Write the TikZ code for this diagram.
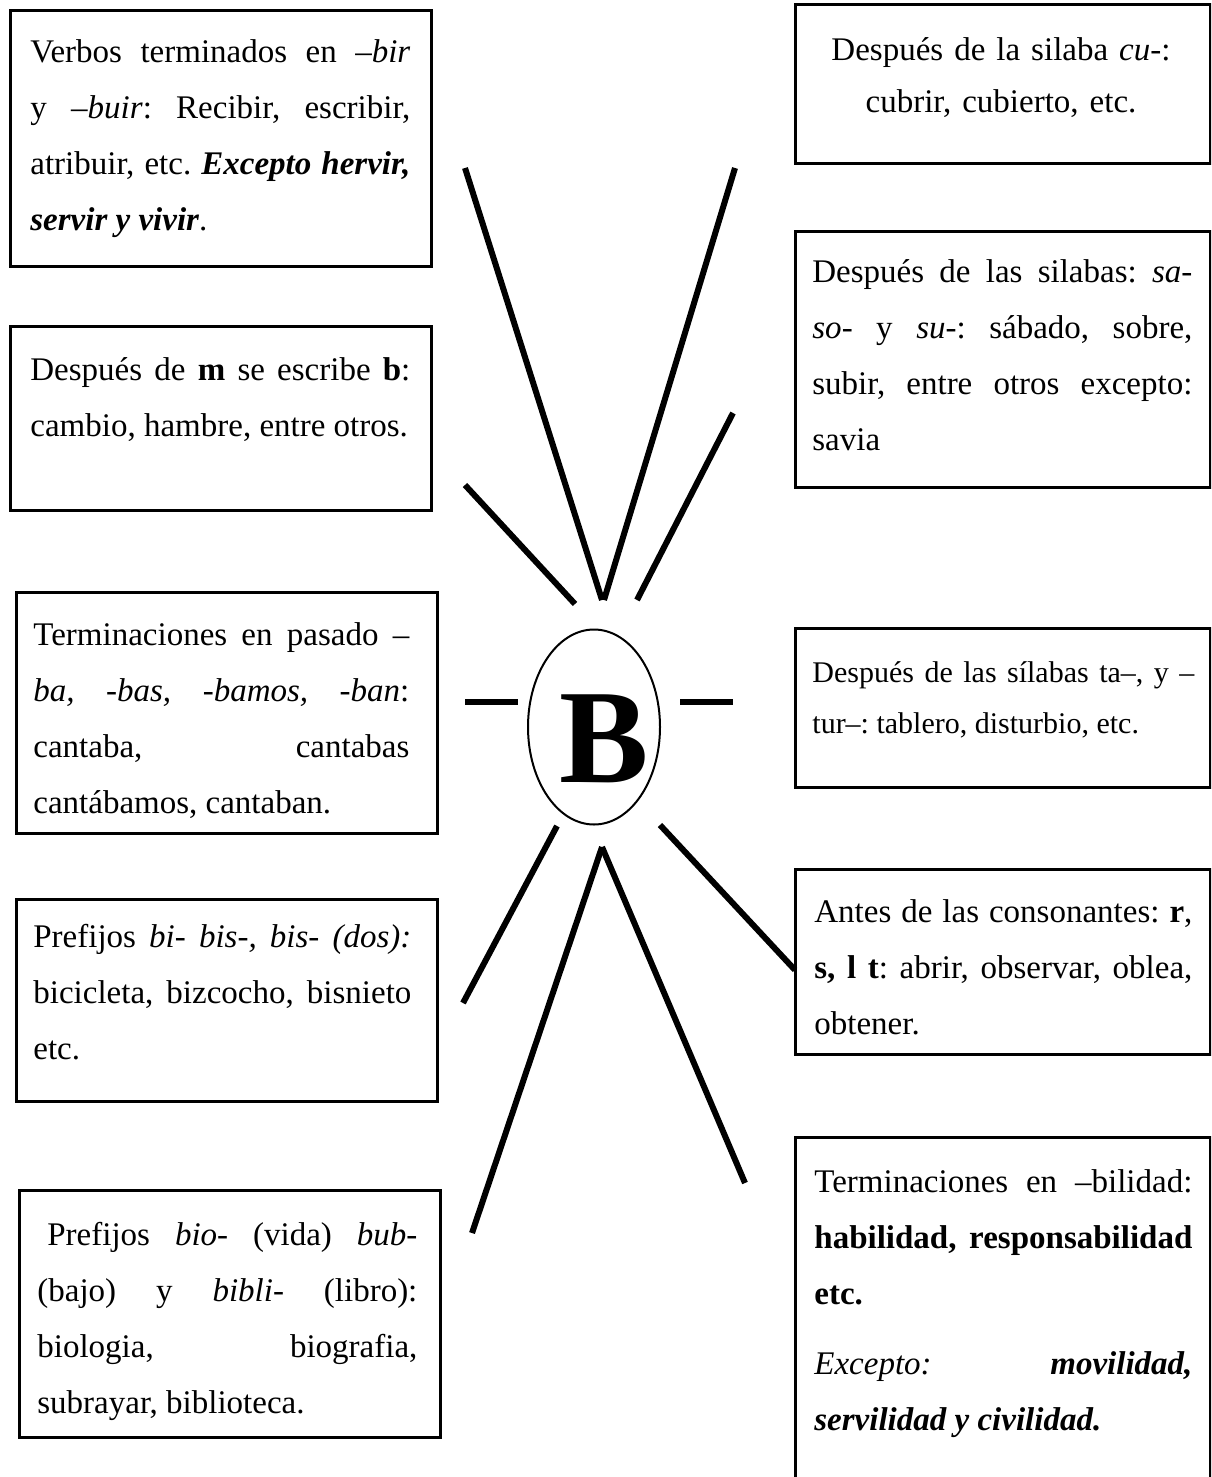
\documentclass[tikz,border=0pt]{standalone}
\usepackage{fontspec}
\setmainfont{Liberation Serif}
\usetikzlibrary{shapes.geometric}
\frenchspacing
\begin{document}
\begin{tikzpicture}[x=0.5pt,y=-0.5pt,
  box/.style={draw, line width=1.5pt, inner sep=0pt, anchor=north west},
  lbox/.style={box, minimum width=210.5pt},
  rbox/.style={box, minimum width=207.5pt},
  txt/.style={anchor=north west, inner sep=0pt, align=justify, font=\fontsize{16.5}{28}\selectfont},
  spoke/.style={line width=3pt}]
\useasboundingbox (0,0) rectangle (1211,1477);
\fill[white] (0,0) rectangle (1211,1477);
\clip (0,0) rectangle (1211,1477);

% boxes
\node[lbox, minimum height=128pt] (b1) at (9,9) {};
\node[lbox, minimum height=92pt] (b2) at (9,325) {};
\node[lbox, minimum height=120.5pt] (b3) at (15,591) {};
\node[lbox, minimum height=101pt] (b4) at (15,898) {};
\node[lbox, minimum height=123.5pt] (b5) at (18,1189) {};
\node[rbox, minimum height=79.5pt] (b6) at (794,3) {};
\node[rbox, minimum height=128pt] (b7) at (794,230) {};
\node[rbox, minimum height=79.5pt] (b8) at (794,627) {};
\node[rbox, minimum height=92.5pt] (b9) at (794,868) {};
\node[rbox, minimum height=185pt] (b10) at (794,1136) {};

% texts
\node[txt, text width=190pt] (t1) at (30,23) {\strut Verbos terminados en –\textit{bir}\linebreak y –\textit{buir}: Recibir, escribir,\linebreak atribuir, etc. \textit{\textbf{Excepto hervir,}}\linebreak \textit{\textbf{servir y vivir}}.};
\node[txt, text width=190pt] (t2) at (30,341) {\strut Después de \textbf{m} se escribe \textbf{b}:\linebreak cambio, hambre, entre otros.};
\node[txt, text width=188pt] (t3) at (33,606) {\strut Terminaciones en pasado –\linebreak \textit{ba, -bas, -bamos, -ban}:\linebreak cantaba, cantabas\linebreak cantábamos, cantaban.};
\node[txt, text width=189pt] (t4) at (33,908) {\strut Prefijos \textit{bi- bis-, bis- (dos):}\linebreak bicicleta, bizcocho, bisnieto\linebreak etc.};
\node[txt, text width=190pt] (t5) at (37,1206) {\strut\hspace*{5pt}Prefijos \textit{bio-} (vida) \textit{bub-}\linebreak (bajo) y \textit{bibli-} (libro):\linebreak biologia, biografia,\linebreak subrayar, biblioteca.};
\node[anchor=north, inner sep=0pt, align=center, text width=200pt, font=\fontsize{16.5}{26}\selectfont] (t6) at (1001,24) {\strut Después de la silaba \textit{cu}-:\\ cubrir, cubierto, etc.};
\node[txt, text width=190pt] (t7) at (812,243) {\strut Después de las silabas: \textit{sa}-\linebreak \textit{so}- y \textit{su}-: sábado, sobre,\linebreak subir, entre otros excepto:\linebreak savia};
\node[txt, text width=191pt, font=\fontsize{15}{25.5}\selectfont] (t8) at (812,646) {\strut Después de las sílabas ta–, y –\linebreak tur–: tablero, disturbio, etc.};
\node[txt, text width=189pt] (t9) at (814,883) {\strut Antes de las consonantes: \textbf{r},\linebreak \textbf{s, l t}: abrir, observar, oblea,\linebreak obtener.};
\node[txt, text width=189pt] (t10) at (814,1153) {\strut Terminaciones en –bilidad:\linebreak \textbf{habilidad, responsabilidad}\linebreak \textbf{etc.}\par\vspace{7pt}\noindent\textit{Excepto:} \textit{\textbf{movilidad,}}\linebreak \textit{\textbf{servilidad y civilidad.}}};

% centre
\node[draw, ellipse, line width=1pt, minimum width=66pt, minimum height=97.5pt, inner sep=0pt] (c) at (594,727) {};
\node[anchor=base, inner sep=0pt, font=\fontsize{67}{67}\selectfont\bfseries] (B) at (604,782) {B};

% spokes
\coordinate (s1a) at (465,168); \coordinate (s1b) at (602,600);
\coordinate (s2a) at (735,168); \coordinate (s2b) at (604,600);
\coordinate (s3a) at (465,485); \coordinate (s3b) at (575,604);
\coordinate (s4a) at (733,413); \coordinate (s4b) at (637,600);
\coordinate (s5a) at (465,702); \coordinate (s5b) at (518,702);
\coordinate (s6a) at (680,702); \coordinate (s6b) at (733,702);
\coordinate (s7a) at (557,826); \coordinate (s7b) at (463,1003);
\coordinate (s8a) at (602,847); \coordinate (s8b) at (472,1233);
\coordinate (s9a) at (602,847); \coordinate (s9b) at (745,1183);
\coordinate (s10a) at (660,825); \coordinate (s10b) at (795,970);
\draw[spoke] (s1a) -- (s1b);
\draw[spoke] (s2a) -- (s2b);
\draw[spoke] (s3a) -- (s3b);
\draw[spoke] (s4a) -- (s4b);
\draw[spoke] (s5a) -- (s5b);
\draw[spoke] (s6a) -- (s6b);
\draw[spoke] (s7a) -- (s7b);
\draw[spoke] (s8a) -- (s8b);
\draw[spoke] (s9a) -- (s9b);
\draw[spoke] (s10a) -- (s10b);
\end{tikzpicture}
\end{document}
